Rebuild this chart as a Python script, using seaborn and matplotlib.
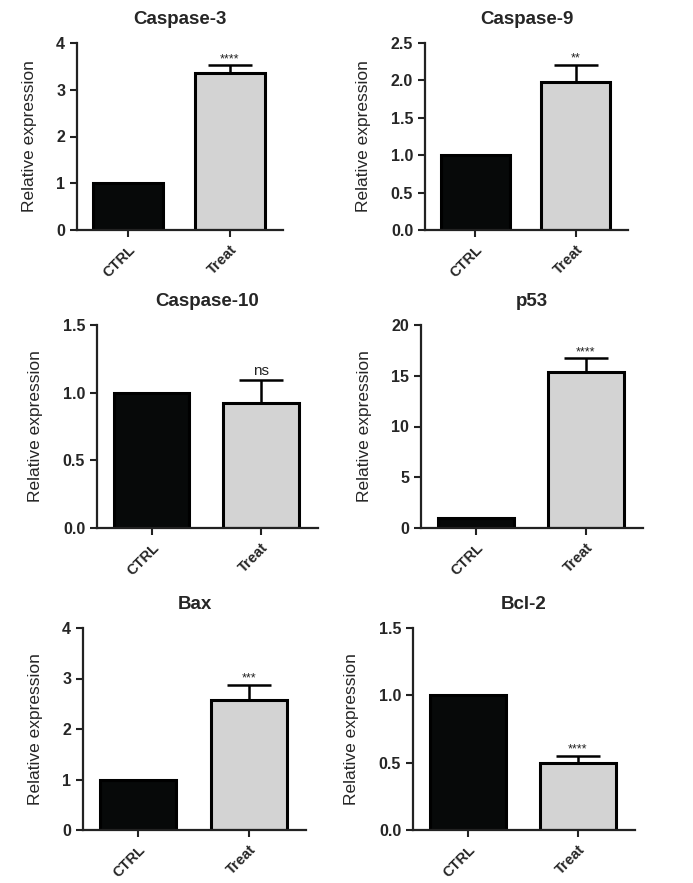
import numpy as np
import pandas as pd
import matplotlib
matplotlib.use("Agg")
import matplotlib.pyplot as plt
import seaborn as sns

# values
genes = ["Caspase-3", "Caspase-9", "Caspase-10", "p53", "Bax", "Bcl-2"]
groups = ["CTRL", "Treat"]
ctrl_mean = [1.0, 1.0, 1.0, 1.0, 1.0, 1.0]
treat_mean = [3.35, 1.98, 0.92, 15.4, 2.57, 0.50]
treat_err = [0.18, 0.23, 0.17, 1.3, 0.31, 0.05]
signif = ["****", "**", "ns", "****", "***", "****"]
y_max = [4, 2.5, 1.5, 20, 4, 1.5]
y_step = [1, 0.5, 0.5, 5, 1, 0.5]
y_fmt = ["{:.0f}", "{:.1f}", "{:.1f}", "{:.0f}", "{:.0f}", "{:.1f}"]

sns.set_style("ticks")
plt.rcParams['font.family'] = ['Liberation Sans', 'DejaVu Sans']

W, H = 693, 883
fig = plt.figure(figsize=(W / 100, H / 100), dpi=100)

# axes boxes in pixels: left, right, top, bottom
boxes = [(77, 283, 43, 230), (425, 628, 43, 230),
         (97, 318, 325, 528), (421, 643, 325, 528),
         (83, 306, 628, 830), (413, 635, 628, 830)]

for i, g in enumerate(genes):
    l, r, t, b = boxes[i]
    ax = fig.add_axes([l / W, 1 - b / H, (r - l) / W, (b - t) / H])
    df = pd.DataFrame({"group": groups, "value": [ctrl_mean[i], treat_mean[i]]})
    sns.barplot(data=df, x="group", y="value", hue="group",
                palette=["#070909", "#d3d3d3"], edgecolor="black",
                linewidth=2.2, width=0.69, legend=False, ax=ax)
    # upper error bar only
    ax.errorbar([1], [treat_mean[i]], yerr=[[0], [treat_err[i]]],
                fmt="none", ecolor="black", elinewidth=1.8, capsize=16,
                capthick=1.8, zorder=3)
    top = treat_mean[i] + treat_err[i]
    if signif[i] == "ns":
        ax.annotate("ns", (1, top), xytext=(0, 2), textcoords="offset points",
                    ha="center", va="bottom", fontsize=11, color="#222222")
    else:
        ax.annotate(signif[i], (1, top), xytext=(0, 0), textcoords="offset points",
                    ha="center", va="bottom", fontsize=9, color="#222222")

    ax.set_xlim(-0.5, 1.52)
    ax.set_ylim(0, y_max[i])
    ticks = np.arange(0, y_max[i] + 1e-9, y_step[i])
    ax.set_yticks(ticks)
    ax.set_yticklabels([y_fmt[i].format(v) for v in ticks],
                       fontweight="bold", fontsize=11.5)
    ax.set_xticks([0, 1])
    ax.set_xticklabels(groups, rotation=45, ha="right", rotation_mode="anchor",
                       fontweight="bold", fontsize=10.5)
    ax.tick_params(axis="both", width=1.5, length=5, color="#222222")
    ax.tick_params(axis="x", pad=4)
    for s in ["left", "bottom"]:
        ax.spines[s].set_linewidth(1.6)
        ax.spines[s].set_color("#222222")
    sns.despine(ax=ax)
    ax.set_xlabel("")
    ax.set_ylabel("Relative expression", fontsize=12.5, labelpad=14)
    ax.set_title(g, fontweight="bold", fontsize=13.5, pad=14)

fig.savefig("out.png", dpi=100, facecolor="white")
